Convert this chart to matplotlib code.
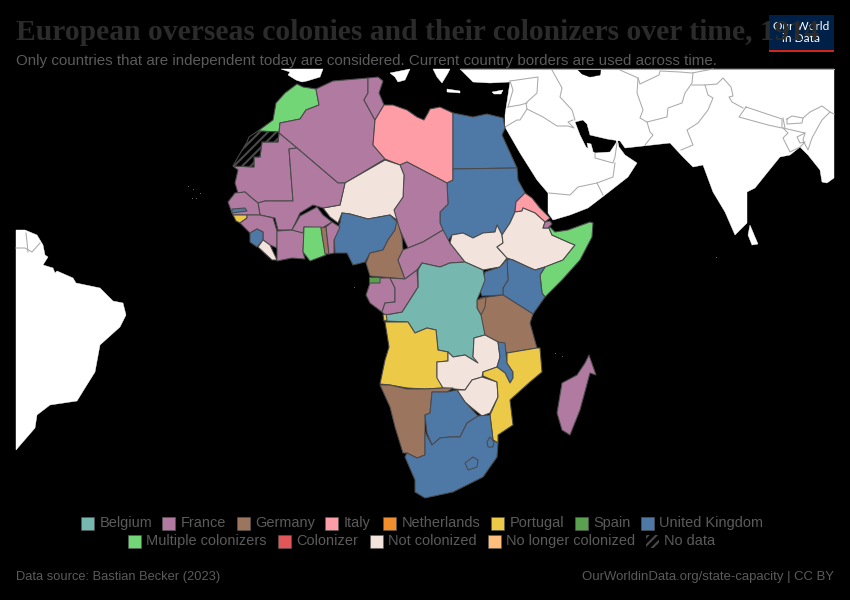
import matplotlib
matplotlib.use("Agg")
import matplotlib.pyplot as plt
from matplotlib.patches import Polygon, Rectangle

TITLE = "European overseas colonies and their colonizers over time, 1914"
SUBTITLE = "Only countries that are independent today are considered. Current country borders are used across time."
SOURCE = "Data source: Bastian Becker (2023)"
URL = "OurWorldinData.org/state-capacity | CC BY"

ROW1 = ["Belgium", "France", "Germany", "Italy", "Netherlands", "Portugal", "Spain", "United Kingdom"]
ROW2 = ["Multiple colonizers", "Colonizer", "Not colonized", "No longer colonized", "No data"]
ROW1_SW = [81, 162, 237, 325, 383, 491, 575, 641]
ROW2_SW = [128, 278, 370, 488, 646]
COLORS = {"Belgium": "#76b7b0", "France": "#b07aa1", "Germany": "#9c755f", "Italy": "#ff9da7",
          "Netherlands": "#f28e2b", "Portugal": "#edc948", "Spain": "#59a14f", "United Kingdom": "#4e79a7",
          "Multiple colonizers": "#72d677", "Colonizer": "#e15759", "Not colonized": "#f2e4dc",
          "No longer colonized": "#ffbe7d", "No data": "#000000"}

# Country outlines
morocco = [(297,84),(303,87),(316,89),(319,105),(306,110),(300,119),(280,123),(279,132),(258,131),(273,120),(276,103),(285,93)]
w_sahara = [(258,131),(279,132),(278,142),(262,142),(260,157),(254,157),(254,167),(233,166),(238,157),(247,142),(249,137)]
algeria = [(316,89),(333,81),(368,78),(368,93),(364,100),(375,120),(373,145),(385,159),(345,183),(338,183),(297,148),(279,133),(280,123),(300,119),(306,110),(319,105)]
tunisia = [(368,78),(378,77),(383,81),(379,93),(384,105),(375,120),(364,100),(368,93)]
libya = [(384,105),(393,105),(407,110),(417,117),(424,120),(428,113),(430,109),(440,107),(453,113),(453,180),(447,183),(407,162),(400,165),(385,159),(373,145),(375,120)]
egypt = [(453,113),(473,117),(487,114),(503,118),(505,128),(502,135),(517,168),(453,169)]
sudan = [(453,169),(517,168),(518,180),(525,193),(516,202),(515,212),(510,223),(502,235),(497,225),(495,232),(483,233),(473,238),(463,233),(452,235),(447,242),(440,223),(440,212),(448,204),(447,183),(453,180)]
eritrea = [(525,193),(516,202),(515,212),(522,211),(523,208),(535,213),(545,222),(550,218),(540,208),(532,198)]
djibouti = [(545,222),(550,221),(552,224),(548,228),(543,228)]
chad = [(400,165),(407,162),(447,183),(448,204),(440,212),(440,223),(443,230),(423,242),(408,248),(403,237),(397,223),(394,210),(403,197),(404,175)]
niger = [(385,160),(400,165),(404,175),(403,197),(394,210),(397,220),(390,215),(368,219),(350,214),(342,213),(338,223),(330,217),(323,208),(340,205),(345,183)]
nigeria = [(342,213),(350,214),(368,219),(390,215),(397,222),(395,230),(388,240),(383,250),(370,253),(365,262),(353,265),(347,253),(335,253),(334,237),(340,223)]
cameroon = [(397,220),(402,237),(403,250),(398,260),(405,279),(370,276),(366,263),(370,253),(383,250),(388,240),(395,230)]
car = [(408,248),(423,242),(443,230),(450,243),(465,262),(450,263),(440,267),(422,263),(417,270),(405,279),(398,260),(403,250)]
s_sudan = [(452,235),(463,233),(473,238),(483,233),(495,232),(497,225),(502,235),(503,243),(497,247),(507,258),(500,267),(483,270),(465,262),(450,243)]
ethiopia = [(515,212),(522,211),(523,208),(535,213),(545,222),(543,228),(549,228),(552,235),(570,243),(575,245),(563,260),(545,267),(535,270),(528,267),(513,260),(507,258),(497,247),(503,243),(502,235),(510,223)]
somalia = [(549,228),(550,227),(555,232),(568,230),(590,222),(593,223),(592,237),(580,260),(562,280),(545,297),(542,293),(540,275),(545,267),(563,260),(575,245),(570,243),(552,235)]
kenya = [(507,259),(513,260),(528,267),(535,270),(545,267),(540,275),(542,293),(545,297),(533,314),(503,295),(503,288),(508,280)]
uganda = [(485,272),(500,267),(507,259),(508,280),(503,288),(503,295),(482,296),(480,290)]
tanzania = [(480,298),(503,295),(533,314),(530,323),(537,348),(507,353),(498,342),(485,335),(478,315)]
rwanda = [(477,300),(486,297),(485,307),(481,315),(477,308)]
drc = [(385,315),(402,312),(418,287),(418,270),(422,263),(440,267),(450,263),(465,262),(483,270),(485,280),(480,293),(477,300),(477,308),(481,315),(485,335),(474,338),(473,357),(480,358),(478,363),(465,355),(453,357),(448,352),(438,350),(436,330),(427,328),(415,333),(408,322),(385,321)]
eq_guinea = [(369,277),(380,277),(380,283),(369,283)]
gabon = [(366,295),(370,283),(380,283),(380,278),(390,278),(395,288),(395,302),(385,303),(382,312),(370,303)]
congo = [(390,278),(405,279),(417,270),(418,287),(402,312),(385,315),(382,312),(385,303),(395,302),(395,288)]
cabinda = [(383,315),(386,314),(387,320),(384,321)]
angola = [(385,322),(408,322),(415,333),(427,328),(436,330),(438,350),(448,352),(448,361),(437,362),(437,377),(443,388),(425,389),(407,388),(390,385),(380,384),(385,360),(389,347)]
zambia = [(437,362),(448,361),(448,352),(453,357),(465,355),(478,363),(473,357),(474,338),(485,335),(498,342),(500,357),(497,367),(483,372),(482,377),(472,380),(465,390),(455,389),(443,388),(437,378)]
zimbabwe = [(457,390),(465,390),(472,380),(482,377),(497,382),(498,397),(490,413),(482,416),(472,408),(465,402)]
malawi = [(498,342),(505,343),(507,363),(513,372),(513,378),(510,383),(505,373),(497,367),(500,357)]
mozambique = [(507,353),(537,348),(540,348),(542,372),(530,382),(510,400),(513,425),(498,435),(498,443),(493,440),(490,415),(498,397),(497,382),(483,376),(483,372),(497,367),(505,373),(510,383),(513,378),(513,372),(507,363)]
namibia = [(380,385),(390,385),(407,389),(425,389),(443,388),(453,388),(447,392),(432,392),(430,413),(425,415),(425,455),(417,458),(407,453),(403,453),(395,427),(390,407)]
botswana = [(432,392),(447,392),(457,390),(465,402),(478,416),(467,423),(460,437),(450,437),(440,438),(432,445),(427,433),(425,415),(430,413)]
s_africa = [(425,432),(432,445),(440,438),(450,437),(460,437),(467,423),(478,416),(490,415),(493,440),(498,443),(497,457),(483,477),(453,492),(425,498),(415,492),(415,480),(405,457),(407,453),(417,458),(425,455)]
lesotho = [(465,463),(473,457),(478,460),(477,467),(468,470)]
eswatini = [(487,442),(490,437),(494,442),(493,447),(488,447)]
madagascar = [(589,355),(596,375),(590,373),(580,410),(570,435),(562,430),(557,413),(562,383),(577,375),(585,363)]
mauritania = [(233,166),(254,167),(254,157),(260,157),(262,142),(278,142),(279,133),(297,148),(289,149),(293,201),(265,201),(258,203),(253,199),(245,192),(238,193),(235,183),(238,170)]
mali = [(289,149),(297,148),(338,183),(345,183),(340,205),(323,208),(313,205),(300,213),(292,230),(278,230),(275,218),(260,215),(258,203),(265,201),(293,201)]
senegal = [(228,202),(235,193),(245,192),(253,199),(258,203),(260,215),(247,215),(233,215),(232,213)]
gambia = [(232,209),(245,208),(247,211),(232,213)]
g_bissau = [(233,215),(247,215),(247,218),(240,223),(236,221)]
guinea = [(247,215),(260,215),(273,218),(277,231),(277,248),(270,245),(263,240),(263,232),(257,229),(250,233),(240,223),(247,218)]
s_leone = [(250,233),(257,229),(263,232),(263,240),(257,247),(250,242)]
liberia = [(263,240),(270,245),(277,260),(272,260),(258,247)]
ivory_coast = [(277,231),(292,230),(304,233),(303,252),(305,259),(292,258),(277,261),(277,248)]
burkina = [(292,230),(300,216),(317,207),(323,215),(332,222),(322,228),(304,227),(303,233)]
ghana = [(304,227),(321,227),(323,240),(326,255),(310,261),(303,252)]
togo = [(321,228),(326,227),(329,254),(325,254)]
benin = [(326,227),(332,222),(340,227),(334,240),(334,253),(329,254)]

STATUS = [
    (morocco, "Multiple colonizers"), (algeria, "France"), (tunisia, "France"), (libya, "Italy"),
    (egypt, "United Kingdom"), (sudan, "United Kingdom"), (eritrea, "Italy"), (chad, "France"),
    (niger, "Not colonized"), (nigeria, "United Kingdom"), (cameroon, "Germany"),
    (car, "France"), (s_sudan, "Not colonized"), (ethiopia, "Not colonized"), (djibouti, "France"),
    (somalia, "Multiple colonizers"),
    (kenya, "United Kingdom"), (uganda, "United Kingdom"), (tanzania, "Germany"), (rwanda, "Germany"),
    (drc, "Belgium"), (eq_guinea, "Spain"), (gabon, "France"), (congo, "France"), (cabinda, "Portugal"),
    (angola, "Portugal"), (zambia, "Not colonized"), (zimbabwe, "Not colonized"), (malawi, "United Kingdom"),
    (mozambique, "Portugal"), (namibia, "Germany"), (botswana, "United Kingdom"), (s_africa, "United Kingdom"),
    (lesotho, "United Kingdom"), (eswatini, "United Kingdom"), (madagascar, "France"), (mauritania, "France"),
    (mali, "France"), (senegal, "France"), (gambia, "United Kingdom"), (g_bissau, "Portugal"), (guinea, "France"),
    (s_leone, "United Kingdom"), (liberia, "Not colonized"), (ivory_coast, "France"), (burkina, "France"),
    (ghana, "Multiple colonizers"), (togo, "Germany"), (benin, "France"),
]

# Lands without data for the chart (white)
asia = [(460,69),(834,69),(834,178),(827,183),(822,182),(820,170),(808,155),(800,147),(790,155),(780,157),(767,173),(755,188),(747,192),(747,223),(742,228),(735,235),(725,212),(713,192),(703,165),(693,167),(683,157),(670,143),(643,146),(625,148),(620,141),(607,139),(590,135),(587,124),(583,120),(575,122),(580,135),(586,147),(595,153),(610,152),(616,143),(617,138),(619,147),(625,155),(637,163),(628,177),(605,195),(588,208),(570,215),(553,220),(548,213),(548,193),(537,180),(520,153),(505,127),(505,115),(510,82),(490,83),(473,82)]
caspian = [(577,69),(601,69),(600,75),(590,77),(582,74)]
qatar = [(587,143),(591,144),(593,151),(589,152)]
sri_lanka = [(750,225),(755,237),(758,244),(752,245),(748,235)]
spain = [(281,69),(323,69),(320,77),(307,81),(302,82),(296,80),(288,75),(290,72)]
italy = [(390,73),(410,69),(405,80),(398,82),(395,77)]
greece = [(433,69),(450,69),(448,73),(442,83),(437,77)]
crete = [(447,89),(460,91),(460,93),(447,92)]
cyprus = [(492,92),(503,90),(501,94),(494,94)]
brazil = [(16,230),(25,230),(37,235),(43,245),(45,255),(48,257),(43,265),(53,268),(55,273),(57,271),(73,278),(76,283),(100,288),(113,301),(123,303),(126,315),(120,327),(100,345),(95,372),(85,388),(77,401),(50,405),(37,415),(35,428),(16,450)]
WHITE_LAND = [asia, qatar, sri_lanka, spain, italy, greece, crete, cyprus, brazil]

BORDERS = [
    [(26,233),(27,242),(28,252)], [(16,248),(25,248),(32,252),(40,243)],
    [(549,193),(570,195),(578,187),(597,183),(613,177),(615,163)], [(597,183),(603,195)],
    [(595,153),(595,158),(613,163),(615,157),(617,143)],
    [(508,107),(520,105),(527,103)], [(505,127),(517,120),(520,120),(527,109),(543,117),(557,126),(568,126),(574,128),(568,122),(573,120)],
    [(552,70),(562,88),(560,97),(572,110),(575,120)],
    [(510,81),(538,77),(537,93),(526,103),(527,109)], [(508,107),(513,90),(510,81)],
    [(620,70),(638,78),(640,84),(659,75),(660,71),(680,72),(692,73),(713,69)],
    [(638,78),(637,93),(643,110),(640,118),(647,122),(650,132),(653,135),(645,145)],
    [(647,122),(667,117),(668,108),(682,103),(685,93),(692,83),(693,73)],
    [(692,85),(705,85),(717,84),(723,78),(731,87),(733,96),(729,97),(732,102),(743,108)],
    [(705,85),(708,95),(713,98),(708,110),(698,123),(687,130),(693,145),(681,150)],
    [(746,107),(782,119),(782,128),(768,125),(739,117),(746,107)],
    [(787,119),(792,116),(803,118),(802,123),(787,124),(787,119)],
    [(783,118),(785,128)],
    [(783,128),(805,133),(803,140),(808,150),(812,138),(818,127),(822,120),(830,112),(822,106),(810,112),(803,118)],
    [(783,128),(788,133),(783,138),(790,152),(800,147),(805,142),(800,143),(797,137),(805,133)],
    [(830,112),(834,114)], [(460,69),(834,69)],
]

# Small islands
ISLES_X = [188, 193, 200, 192, 196, 354, 555, 562, 716]
ISLES_Y = [186, 189, 193, 198, 198, 287, 353, 356, 257]

EDGE = "#4a4a4a"
TXT = "#5b5b5b"
plt.rcParams["font.family"] = ["Liberation Sans", "DejaVu Sans"]
plt.rcParams["hatch.linewidth"] = 1.5

fig = plt.figure(figsize=(8.5, 6), dpi=100, facecolor="#000000")
ax = fig.add_axes([0, 0, 1, 1])
ax.set_xlim(0, 850)
ax.set_ylim(600, 0)
ax.axis("off")

for shape in WHITE_LAND:
    ax.add_patch(Polygon(shape, closed=True, fc="white", ec="white", lw=0.3, zorder=1))
ax.add_patch(Polygon(caspian, closed=True, fc="black", ec="black", lw=0.3, zorder=2))
for line in BORDERS:
    ax.plot([p[0] for p in line], [p[1] for p in line], color="#aaaaaa", lw=0.75, zorder=3,
            solid_joinstyle="round")
ax.scatter(ISLES_X, ISLES_Y, s=0.6, c="#777777", linewidths=0, zorder=3)

for shape, status in STATUS:
    ax.add_patch(Polygon(shape, closed=True, fc=COLORS[status], ec=EDGE, lw=0.75, joinstyle="round", zorder=4))
ax.add_patch(Polygon(w_sahara, closed=True, fc="black", ec=EDGE, lw=0.75, hatch="////", zorder=4))


def legend_row(names, xs, y):
    for name, x in zip(names, xs):
        if name == "No data":
            ax.add_patch(Rectangle((x, y - 6.5), 13, 13, fc="black", ec="#4a4a4a", lw=0.0, hatch="////", zorder=5))
        else:
            ax.add_patch(Rectangle((x, y - 6.5), 13, 13, fc=COLORS[name], ec="#5b5b5b", lw=0.4, zorder=5))
        ax.text(x + 18.5, y, name, color=TXT, fontsize=10.42, va="center", ha="left", zorder=5)


legend_row(ROW1, ROW1_SW, 523)
legend_row(ROW2, ROW2_SW, 541)

# Logo
ax.add_patch(Rectangle((769, 15), 65, 37, fc="#002147", ec="none", zorder=6))
ax.add_patch(Rectangle((769, 49.5), 65, 2.5, fc="#ce261e", ec="none", zorder=7))
ax.text(801.5, 26.5, "Our World", color="white", fontsize=8.6, ha="center", va="center", family="Lato", zorder=7)
ax.text(801.5, 39, "in Data", color="white", fontsize=8.6, ha="center", va="center", family="Lato", zorder=7)

ax.text(16, 40, TITLE, color="#2b2b2b", fontsize=21.3, fontweight="bold", family="Liberation Serif", va="baseline", ha="left", zorder=8)
ax.text(16, 61, SUBTITLE, color=TXT, fontsize=10.93, va="center", ha="left", zorder=8)
ax.text(16, 577, SOURCE, color=TXT, fontsize=9.3, va="center", ha="left", zorder=5)
ax.text(834, 577, URL, color=TXT, fontsize=9.45, va="center", ha="right", zorder=5)

fig.savefig("out.png", dpi=100, facecolor="#000000")
